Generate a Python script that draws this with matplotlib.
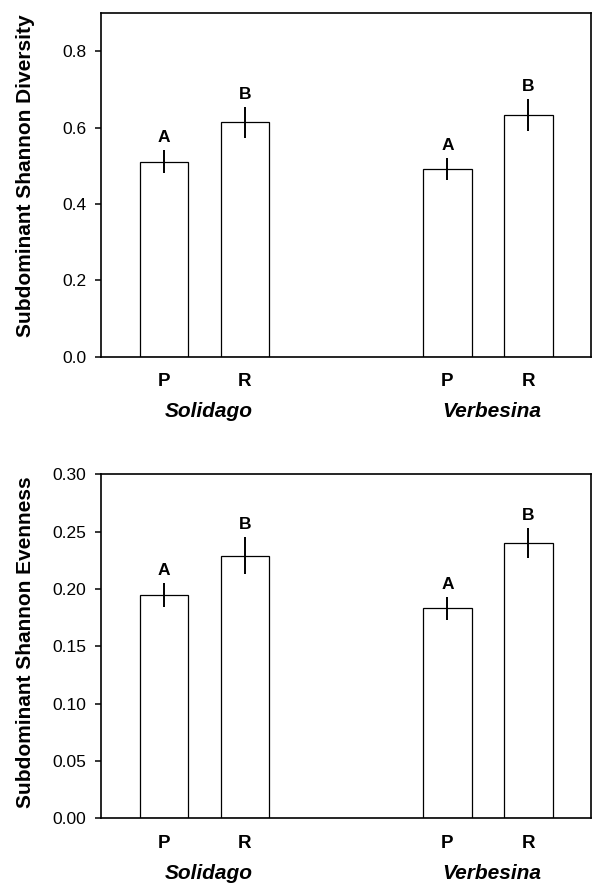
import numpy as np
import matplotlib.pyplot as plt
from matplotlib import transforms

plt.rcParams['font.family'] = ['Liberation Sans', 'DejaVu Sans']

# data
groups = ["Solidago", "Verbesina"]
treatments = ["P", "R", "P", "R"]
diversity = [0.511, 0.614, 0.491, 0.634]
diversity_err = [0.030, 0.040, 0.029, 0.042]
evenness = [0.195, 0.229, 0.183, 0.240]
evenness_err = [0.0105, 0.0163, 0.0098, 0.013]
letters = ["A", "B", "A", "B"]

x = np.array([0, 1, 3.5, 4.5])
width = 0.6

fig = plt.figure(figsize=(5.92, 8.83), dpi=100)
ax1 = fig.add_axes([0.170, 0.596, 0.828, 0.389])
ax2 = fig.add_axes([0.170, 0.0733, 0.828, 0.3897])


def panel(ax, vals, errs, ylim, yticks, fmt, ylabel, label_y):
    ax.bar(x, vals, width=width, color='white', edgecolor='black', linewidth=0.9, zorder=2)
    ax.errorbar(x, vals, yerr=errs, fmt='none', ecolor='black', elinewidth=1.4, capsize=0, zorder=3)
    for xi, v, e, l in zip(x, vals, errs, letters):
        ax.annotate(l, (xi, v + e), xytext=(0, 3.5), textcoords='offset points',
                    ha='center', va='bottom', fontsize=12.5, fontweight='bold')
    ax.set_xlim(-0.78, 5.27)
    ax.set_ylim(*ylim)
    ax.set_yticks(yticks)
    ax.set_yticklabels([fmt.format(t) for t in yticks], fontsize=12.5)
    ax.set_xticks(x)
    ax.set_xticklabels(treatments, fontsize=13.5, fontweight='bold')
    ax.tick_params(axis='x', length=0, pad=12)
    ax.tick_params(axis='y', direction='out', length=4.5, width=1.1, pad=6)
    for s in ax.spines.values():
        s.set_linewidth(1.2)
    ax.set_ylabel(ylabel, fontsize=15, fontweight='bold')
    ax.yaxis.set_label_coords(-0.134, label_y)
    trans = transforms.blended_transform_factory(ax.transData, ax.transAxes)
    for i, g in enumerate(groups):
        gx = (x[2 * i] + x[2 * i + 1]) / 2 + 0.05
        ax.text(gx, -0.16, g, transform=trans, ha='center', va='center',
                fontsize=15, fontweight='bold', fontstyle='italic')


panel(ax1, diversity, diversity_err, (0, 0.9), [0.0, 0.2, 0.4, 0.6, 0.8], "{:.1f}",
      "Subdominant Shannon Diversity", 0.526)
panel(ax2, evenness, evenness_err, (0, 0.30), [0.0, 0.05, 0.10, 0.15, 0.20, 0.25, 0.30], "{:.2f}",
      "Subdominant Shannon Evenness", 0.511)

fig.savefig("out.png", dpi=100)
